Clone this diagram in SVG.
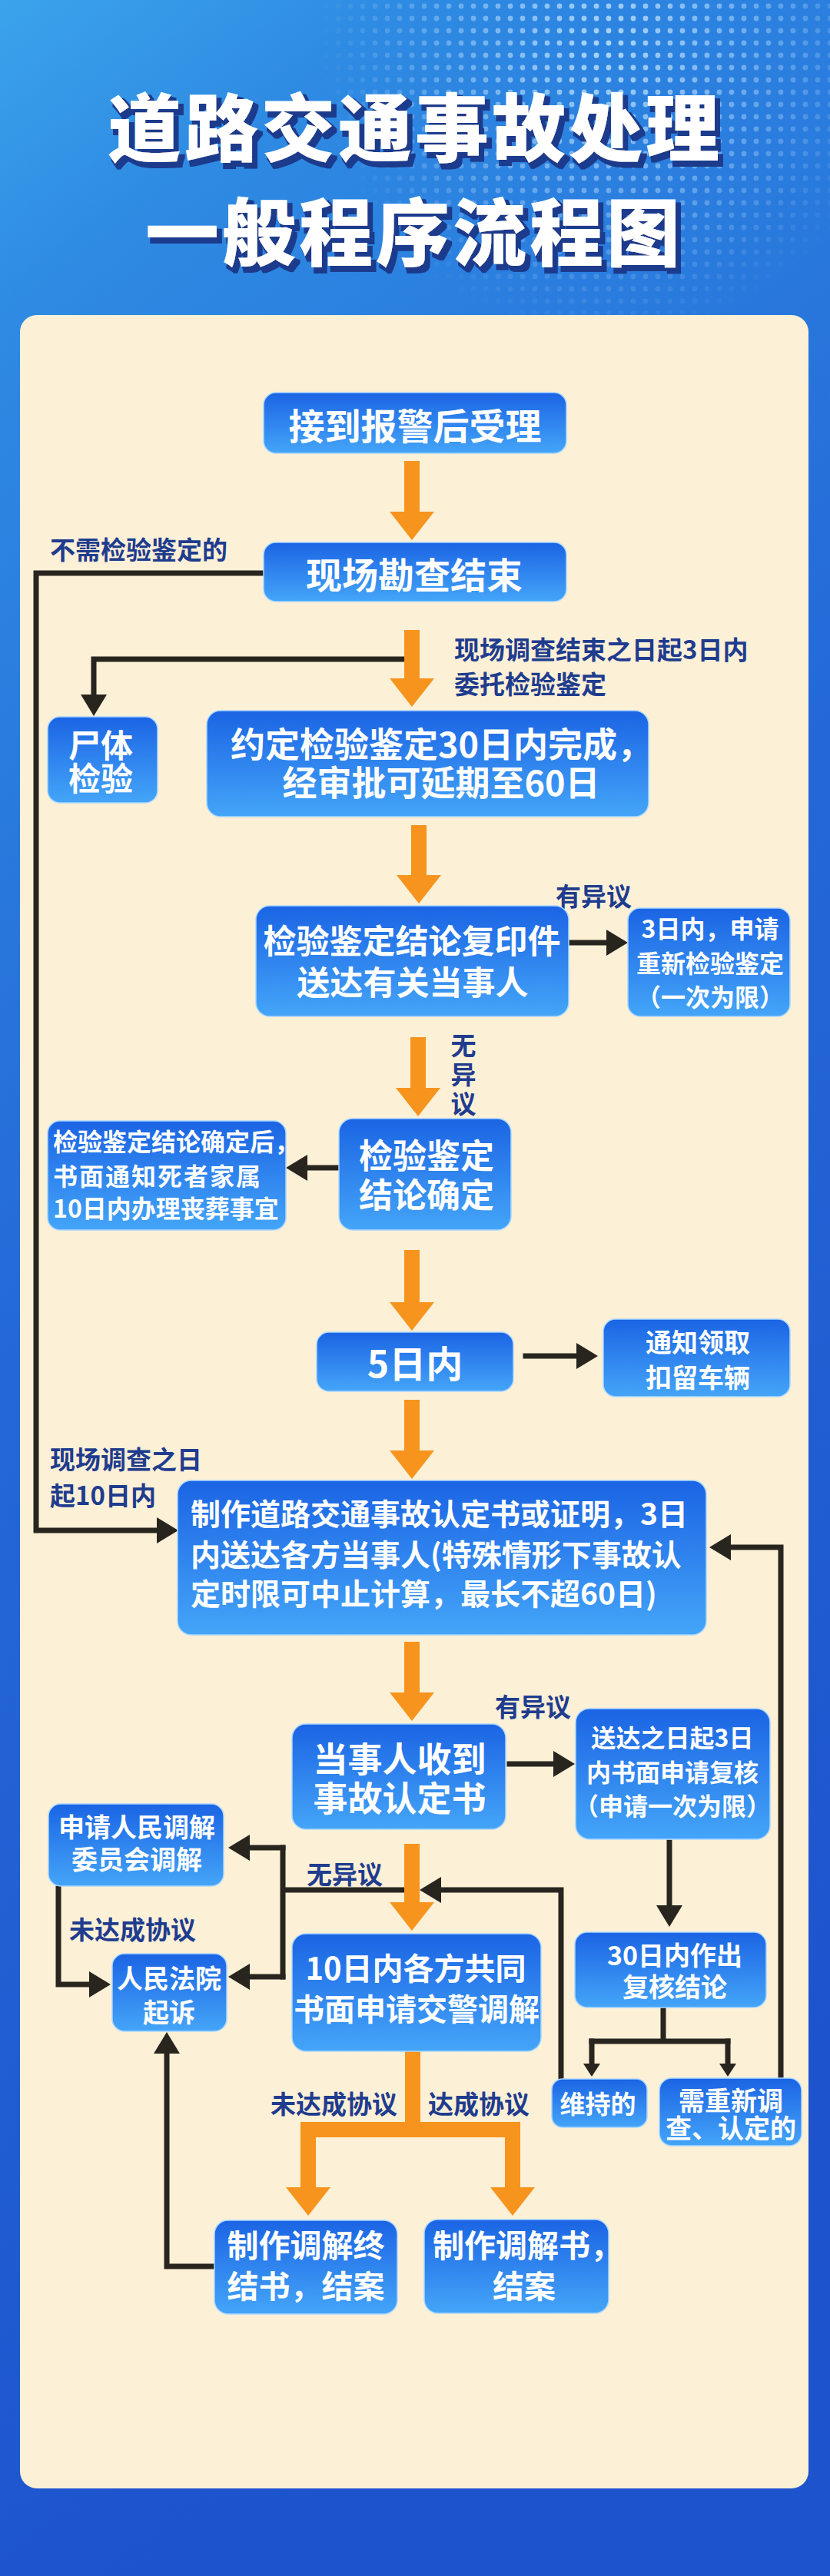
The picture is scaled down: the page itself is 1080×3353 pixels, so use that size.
<svg xmlns="http://www.w3.org/2000/svg" width="1080" height="3353" viewBox="0 0 1080 3353">
<defs>
<linearGradient id="bgG" x1="0" y1="0" x2="0.25" y2="1">
<stop offset="0" stop-color="#3ba3ec"/>
<stop offset="0.12" stop-color="#2e8ae2"/>
<stop offset="0.5" stop-color="#2468d8"/>
<stop offset="1" stop-color="#1d53cd"/>
</linearGradient>
<linearGradient id="boxG" x1="0" y1="0" x2="0" y2="1">
<stop offset="0" stop-color="#1b64e4"/>
<stop offset="1" stop-color="#44a5f8"/>
</linearGradient>
<pattern id="dots" width="16" height="16" patternUnits="userSpaceOnUse">
<circle cx="8" cy="8" r="3.4" fill="#c4e4ff"/>
</pattern>
<radialGradient id="dmG" cx="790" cy="60" r="380" gradientUnits="userSpaceOnUse">
<stop offset="0" stop-color="#fff" stop-opacity="0.85"/>
<stop offset="0.6" stop-color="#fff" stop-opacity="0.35"/>
<stop offset="1" stop-color="#fff" stop-opacity="0"/>
</radialGradient>
<mask id="dm"><rect x="0" y="0" width="1080" height="420" fill="url(#dmG)"/></mask>
<filter id="tsh" x="-5%" y="-20%" width="115%" height="150%">
<feMorphology in="SourceAlpha" operator="dilate" radius="1.5" result="d"/>
<feOffset in="d" dx="5" dy="6" result="o"/>
<feFlood flood-color="#1a3a8c"/>
<feComposite in2="o" operator="in" result="s"/>
<feMerge><feMergeNode in="s"/><feMergeNode in="SourceGraphic"/></feMerge>
</filter>
<marker id="ob" viewBox="0 0 37 58" refX="0" refY="29" markerWidth="37" markerHeight="58" markerUnits="userSpaceOnUse" orient="auto">
<path d="M0,0 L37,29 L0,58 z" fill="#f7941d"/>
</marker>
<marker id="kb" viewBox="0 0 28 34" refX="0" refY="17" markerWidth="28" markerHeight="34" markerUnits="userSpaceOnUse" orient="auto">
<path d="M0,0 L28,17 L0,34 z" fill="#28251f"/>
</marker>
<marker id="ks" viewBox="0 0 17 22" refX="0" refY="11" markerWidth="17" markerHeight="22" markerUnits="userSpaceOnUse" orient="auto">
<path d="M0,0 L17,11 L0,22 z" fill="#28251f"/>
</marker>
<style>
.nb{fill:url(#boxG);stroke:#a9d6ff;stroke-width:1.5}
.nt{fill:#ffffff;font-family:'Noto Sans CJK SC','Noto Sans CJK JP',sans-serif;font-weight:700;text-anchor:middle;dominant-baseline:central}
.ns{text-anchor:start}
.lb{fill:#1f3c8e;font-family:'Noto Sans CJK SC','Noto Sans CJK JP',sans-serif;font-weight:700;font-size:33px;dominant-baseline:central}
.bk{fill:none;stroke:#28251f;stroke-width:7;stroke-linecap:square}
.or{fill:none;stroke:#f7941d;stroke-width:20}
.tt{fill:#ffffff;font-family:'Noto Sans CJK SC','Noto Sans CJK JP',sans-serif;font-weight:900;font-size:96px;letter-spacing:4px;text-anchor:middle;dominant-baseline:central}
</style>
</defs>

<rect x="0" y="0" width="1080" height="3353" fill="url(#bgG)"/>
<rect x="420" y="0" width="660" height="420" fill="url(#dots)" mask="url(#dm)"/>

<g id="title" filter="url(#tsh)">
<text class="tt" x="540" y="160">道路交通事故处理</text>
<text class="tt" x="539" y="296">一般程序流程图</text>
</g>

<rect id="panel" x="26" y="410" width="1026" height="2829" rx="22" fill="#fcf0d6"/>

<g id="connectors">
<path class="bk" d="M343,746 H47 V1992 H204" marker-end="url(#kb)"/>
<path class="bk" d="M536,858 H122 V904" marker-end="url(#kb)"/>
<path class="bk" d="M742,1227 H789" marker-end="url(#kb)"/>
<path class="bk" d="M439,1520 H400" marker-end="url(#kb)"/>
<path class="bk" d="M684,1765 H750" marker-end="url(#kb)"/>
<path class="bk" d="M1016,2703 V2014 H951" marker-end="url(#kb)"/>
<path class="bk" d="M663,2296 H720" marker-end="url(#kb)"/>
<path class="bk" d="M871,2398 V2480" marker-end="url(#kb)"/>
<path class="bk" d="M863,2616 V2657 M770,2657 H947"/>
<path class="bk" d="M770,2657 V2686" marker-end="url(#ks)"/>
<path class="bk" d="M947,2657 V2686" marker-end="url(#ks)"/>
<path class="bk" d="M730,2703 V2460 H574" marker-end="url(#kb)"/>
<path class="bk" d="M536,2460 H368 M368,2405 V2573"/>
<path class="bk" d="M368,2405 H325" marker-end="url(#kb)"/>
<path class="bk" d="M368,2573 H325" marker-end="url(#kb)"/>
<path class="bk" d="M76,2458 V2583 H116" marker-end="url(#kb)"/>
<path class="bk" d="M277,2950 H217 V2673" marker-end="url(#kb)"/>

<path class="or" d="M536,600 V666" marker-end="url(#ob)"/>
<path class="or" d="M536,820 V883" marker-end="url(#ob)"/>
<path class="or" d="M545,1074 V1139" marker-end="url(#ob)"/>
<path class="or" d="M544,1350 V1416" marker-end="url(#ob)"/>
<path class="or" d="M536,1627 V1695" marker-end="url(#ob)"/>
<path class="or" d="M536,1822 V1888" marker-end="url(#ob)"/>
<path class="or" d="M536,2137 V2203" marker-end="url(#ob)"/>
<path class="or" d="M536,2400 V2476" marker-end="url(#ob)"/>
<path class="or" d="M537,2670 V2772 M391,2772 H677"/>
<path class="or" d="M401,2762 V2847" marker-end="url(#ob)"/>
<path class="or" d="M667,2762 V2847" marker-end="url(#ob)"/>
</g>

<g id="labels">
<text class="lb" x="65" y="714">不需检验鉴定的</text>
<text class="lb"><tspan x="591" y="844">现场调查结束之日起3日内</tspan><tspan x="591" y="889">委托检验鉴定</tspan></text>
<text class="lb" x="723" y="1165">有异议</text>
<text class="lb" text-anchor="middle"><tspan x="603" y="1359">无</tspan><tspan x="603" y="1397">异</tspan><tspan x="603" y="1435">议</tspan></text>
<text class="lb"><tspan x="65" y="1898">现场调查之日</tspan><tspan x="65" y="1945">起10日内</tspan></text>
<text class="lb" x="644" y="2220">有异议</text>
<text class="lb" x="399" y="2438">无异议</text>
<text class="lb" x="90" y="2510">未达成协议</text>
<text class="lb" x="352" y="2737">未达成协议</text>
<text class="lb" x="557" y="2737">达成协议</text>
</g>

<g id="n1"><rect class="nb" x="343" y="511" width="394" height="79" rx="16"/>
<text class="nt" x="540" y="551" font-size="47">接到报警后受理</text></g>

<g id="n2"><rect class="nb" x="343" y="706" width="394" height="77" rx="16"/>
<text class="nt" x="539" y="745" font-size="47">现场勘查结束</text></g>

<g id="n3"><rect class="nb" x="62" y="933" width="143" height="112" rx="16"/>
<text class="nt" font-size="42"><tspan x="131" y="967">尸体</tspan><tspan x="131" y="1010">检验</tspan></text></g>

<g id="n4"><rect class="nb" x="269" y="925" width="575" height="138" rx="18"/>
<text class="nt" font-size="45"><tspan class="ns" x="300" y="966">约定检验鉴定30日内完成，</tspan><tspan x="574" y="1016">经审批可延期至60日</tspan></text></g>

<g id="n5"><rect class="nb" x="333" y="1179" width="407" height="144" rx="18"/>
<text class="nt" font-size="43"><tspan x="536" y="1222">检验鉴定结论复印件</tspan><tspan x="537" y="1276">送达有关当事人</tspan></text></g>

<g id="n6"><rect class="nb" x="817" y="1182" width="211" height="141" rx="16"/>
<text class="nt" font-size="32"><tspan x="924" y="1207">3日内，申请</tspan><tspan x="924" y="1252">重新检验鉴定</tspan><tspan x="924" y="1296">（一次为限）</tspan></text></g>

<g id="n7"><rect class="nb" x="441" y="1456" width="224" height="145" rx="18"/>
<text class="nt" font-size="44"><tspan x="555" y="1502">检验鉴定</tspan><tspan x="555" y="1553">结论确定</tspan></text></g>

<g id="n8"><rect class="nb" x="62" y="1459" width="310" height="142" rx="16"/>
<text class="nt ns" font-size="32"><tspan x="69" y="1484">检验鉴定结论确定后，</tspan><tspan x="69" y="1529" letter-spacing="2">书面通知死者家属</tspan><tspan x="69" y="1571">10日内办理丧葬事宜</tspan></text></g>

<g id="n9"><rect class="nb" x="412" y="1734" width="256" height="77" rx="16"/>
<text class="nt" x="540" y="1772" font-size="48">5日内</text></g>

<g id="n10"><rect class="nb" x="785" y="1717" width="243" height="101" rx="16"/>
<text class="nt" font-size="34"><tspan x="908" y="1745">通知领取</tspan><tspan x="908" y="1791">扣留车辆</tspan></text></g>

<g id="n11"><rect class="nb" x="231" y="1927" width="688" height="201" rx="18"/>
<text class="nt ns" font-size="39"><tspan x="248" y="1968">制作道路交通事故认定书或证明，3日</tspan><tspan x="248" y="2021">内送达各方当事人(特殊情形下事故认</tspan><tspan x="248" y="2072">定时限可中止计算，最长不超60日)</tspan></text></g>

<g id="n12"><rect class="nb" x="380" y="2244" width="278" height="137" rx="18"/>
<text class="nt" font-size="45"><tspan x="520" y="2287">当事人收到</tspan><tspan x="520" y="2338">事故认定书</tspan></text></g>

<g id="n13"><rect class="nb" x="749" y="2224" width="253" height="170" rx="18"/>
<text class="nt" font-size="32"><tspan x="875" y="2260">送达之日起3日</tspan><tspan x="875" y="2305">内书面申请复核</tspan><tspan x="875" y="2349">（申请一次为限）</tspan></text></g>

<g id="n14"><rect class="nb" x="63" y="2348" width="228" height="107" rx="16"/>
<text class="nt" font-size="34"><tspan x="178" y="2376">申请人民调解</tspan><tspan x="178" y="2418">委员会调解</tspan></text></g>

<g id="n15"><rect class="nb" x="146" y="2543" width="149" height="101" rx="16"/>
<text class="nt" font-size="34"><tspan x="220" y="2573">人民法院</tspan><tspan x="220" y="2617">起诉</tspan></text></g>

<g id="n16"><rect class="nb" x="380" y="2517" width="324" height="153" rx="18"/>
<text class="nt" font-size="40"><tspan x="541" y="2560">10日内各方共同</tspan><tspan x="542" y="2613">书面申请交警调解</tspan></text></g>

<g id="n17"><rect class="nb" x="748" y="2515" width="249" height="98" rx="16"/>
<text class="nt" font-size="34"><tspan x="878" y="2543">30日内作出</tspan><tspan x="878" y="2584">复核结论</tspan></text></g>

<g id="n18"><rect class="nb" x="718" y="2706" width="124" height="63" rx="14"/>
<text class="nt" x="778" y="2737" font-size="33">维持的</text></g>

<g id="n19"><rect class="nb" x="858" y="2705" width="185" height="88" rx="16"/>
<text class="nt" font-size="34"><tspan x="951" y="2732">需重新调</tspan><tspan x="951" y="2768">查、认定的</tspan></text></g>

<g id="n20"><rect class="nb" x="279" y="2890" width="238" height="122" rx="18"/>
<text class="nt" font-size="41"><tspan x="398" y="2920">制作调解终</tspan><tspan x="398" y="2973">结书，结案</tspan></text></g>

<g id="n21"><rect class="nb" x="552" y="2889" width="240" height="122" rx="18"/>
<text class="nt" font-size="41"><tspan class="ns" x="563" y="2920">制作调解书，</tspan><tspan x="682" y="2973">结案</tspan></text></g>
</svg>
